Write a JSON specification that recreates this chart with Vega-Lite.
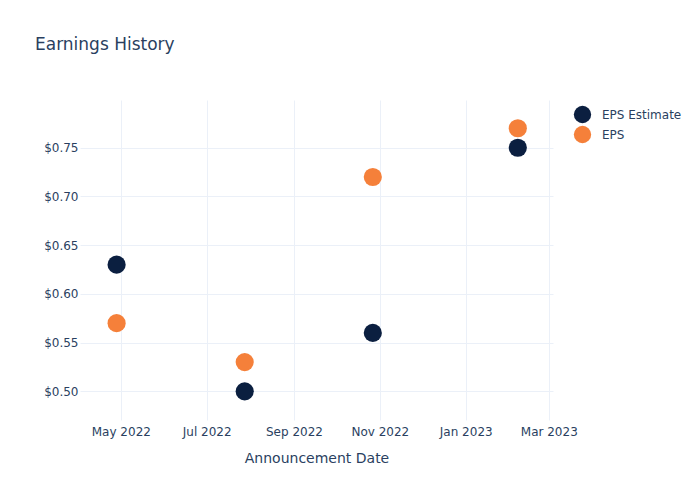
{
  "$schema": "https://vega.github.io/schema/vega-lite/v6.json",
  "autosize": "none",
  "width": 473,
  "height": 320,
  "padding": {"left": 80, "top": 100, "right": 147, "bottom": 80},
  "background": "white",
  "title": {
    "text": "Earnings History",
    "anchor": "start",
    "frame": "group",
    "dx": -45,
    "offset": 46,
    "font": "DejaVu Sans",
    "fontSize": 17,
    "fontWeight": "normal",
    "color": "#2a3f5f"
  },
  "config": {
    "view": {"stroke": null},
    "font": "DejaVu Sans"
  },
  "data": {
    "values": [
      {"date": "2022-04-28", "series": "EPS Estimate", "value": 0.63},
      {"date": "2022-07-28", "series": "EPS Estimate", "value": 0.50},
      {"date": "2022-10-27", "series": "EPS Estimate", "value": 0.56},
      {"date": "2023-02-07", "series": "EPS Estimate", "value": 0.75},
      {"date": "2022-04-28", "series": "EPS", "value": 0.57},
      {"date": "2022-07-28", "series": "EPS", "value": 0.53},
      {"date": "2022-10-27", "series": "EPS", "value": 0.72},
      {"date": "2023-02-07", "series": "EPS", "value": 0.77}
    ]
  },
  "mark": {"type": "point", "filled": true, "shape": "circle", "size": 330, "opacity": 1},
  "encoding": {
    "x": {
      "field": "date",
      "type": "temporal",
      "scale": {
        "type": "utc",
        "domain": [
          {"year": 2022, "month": 4, "date": 2, "utc": true},
          {"year": 2023, "month": 3, "date": 4, "utc": true}
        ]
      },
      "axis": {
        "title": "Announcement Date",
        "titleFont": "DejaVu Sans",
        "titleFontSize": 14,
        "titleFontWeight": "normal",
        "titleColor": "#2a3f5f",
        "titlePadding": 14,
        "values": [
          {"year": 2022, "month": 5, "date": 1, "utc": true},
          {"year": 2022, "month": 7, "date": 1, "utc": true},
          {"year": 2022, "month": 9, "date": 1, "utc": true},
          {"year": 2022, "month": 11, "date": 1, "utc": true},
          {"year": 2023, "month": 1, "date": 1, "utc": true},
          {"year": 2023, "month": 3, "date": 1, "utc": true}
        ],
        "labelExpr": "utcFormat(datum.value, '%b %Y')",
        "labelFont": "DejaVu Sans",
        "labelFontSize": 12,
        "labelColor": "#2a3f5f",
        "labelPadding": 6,
        "labelFlush": false,
        "labelOverlap": false,
        "ticks": false,
        "domain": false,
        "grid": true,
        "gridColor": "#ebf0f8",
        "gridWidth": 1
      }
    },
    "y": {
      "field": "value",
      "type": "quantitative",
      "scale": {"domain": [0.4706, 0.799], "nice": false, "zero": false},
      "axis": {
        "title": null,
        "values": [0.5, 0.55, 0.6, 0.65, 0.7, 0.75],
        "format": "$.2f",
        "labelFont": "DejaVu Sans",
        "labelFontSize": 12,
        "labelColor": "#2a3f5f",
        "labelPadding": 2,
        "ticks": false,
        "domain": false,
        "grid": true,
        "gridColor": "#ebf0f8",
        "gridWidth": 1
      }
    },
    "color": {
      "field": "series",
      "type": "nominal",
      "scale": {"domain": ["EPS Estimate", "EPS"], "range": ["#0b1f40", "#f5803a"]},
      "legend": {
        "title": null,
        "orient": "none",
        "legendX": 493,
        "legendY": 5,
        "symbolType": "circle",
        "symbolSize": 300,
        "symbolOpacity": 1,
        "labelFont": "DejaVu Sans",
        "labelFontSize": 12,
        "labelColor": "#2a3f5f",
        "rowPadding": 1,
        "labelOffset": 10
      }
    },
    "order": {"field": "series", "sort": "descending"}
  }
}
